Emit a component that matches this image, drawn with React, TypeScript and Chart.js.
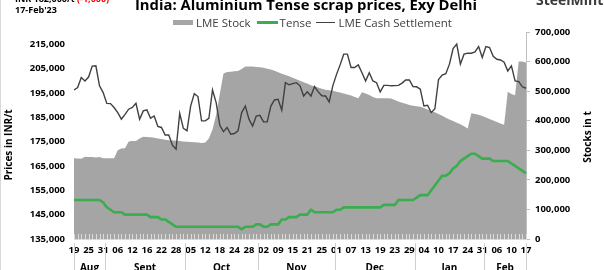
import React, { useEffect, useRef } from 'react';
import { Chart, registerables } from 'chart.js';

Chart.register(...registerables);

const FONT = "'Open Sans', sans-serif";
const GREEN = '#3aae4e';
const GRAY_AREA = '#a5a5a5';
const DARK_LINE = '#404040';

const dates = [
  '19 Aug', '22 Aug', '23 Aug', '24 Aug', '25 Aug', '26 Aug', '29 Aug', '30 Aug', '31 Aug',
  '01 Sep', '02 Sep', '05 Sep', '06 Sep', '07 Sep', '08 Sep', '09 Sep', '12 Sep', '13 Sep', '14 Sep', '15 Sep',
  '16 Sep', '19 Sep', '20 Sep', '21 Sep', '22 Sep', '23 Sep', '26 Sep', '27 Sep', '28 Sep', '29 Sep', '30 Sep',
  '03 Oct', '05 Oct', '06 Oct', '07 Oct', '10 Oct', '12 Oct', '13 Oct', '14 Oct', '17 Oct', '18 Oct', '19 Oct',
  '20 Oct', '21 Oct', '24 Oct', '25 Oct', '26 Oct', '27 Oct', '28 Oct', '29 Oct', '31 Oct',
  '01 Nov', '02 Nov', '03 Nov', '04 Nov', '07 Nov', '09 Nov', '10 Nov', '11 Nov', '14 Nov', '15 Nov', '16 Nov',
  '17 Nov', '18 Nov', '21 Nov', '22 Nov', '23 Nov', '24 Nov', '25 Nov', '28 Nov', '29 Nov', '30 Nov',
  '01 Dec', '02 Dec', '05 Dec', '06 Dec', '07 Dec', '08 Dec', '09 Dec', '12 Dec', '13 Dec', '14 Dec', '15 Dec',
  '16 Dec', '19 Dec', '20 Dec', '21 Dec', '22 Dec', '23 Dec', '26 Dec', '27 Dec', '28 Dec', '29 Dec', '30 Dec',
  '02 Jan', '03 Jan', '04 Jan', '05 Jan', '06 Jan', '09 Jan', '10 Jan', '11 Jan', '12 Jan', '13 Jan', '17 Jan',
  '18 Jan', '19 Jan', '20 Jan', '24 Jan', '25 Jan', '27 Jan', '30 Jan', '31 Jan',
  '01 Feb', '02 Feb', '03 Feb', '06 Feb', '07 Feb', '08 Feb', '09 Feb', '10 Feb', '13 Feb', '14 Feb', '16 Feb', '17 Feb',
];

const monthNames: Record<string, string> = {
  Aug: 'Aug', Sep: 'Sept', Oct: 'Oct', Nov: 'Nov', Dec: 'Dec', Jan: 'Jan', Feb: 'Feb',
};

const priceTicks = [135000, 145000, 155000, 165000, 175000, 185000, 195000, 205000, 215000];
const stockTicks = [0, 100000, 200000, 300000, 400000, 500000, 600000, 700000];

const lmeStock = [
  273000, 272000, 271000, 278000, 277000, 277000, 276000, 277000, 273000, 273000,
  273000, 273000, 300000, 306000, 307000, 330000, 331000, 331000, 340000, 346000,
  345000, 344000, 342000, 340000, 338000, 336000, 334000, 333000, 332000, 331000,
  330000, 329000, 328000, 327000, 326000, 325000, 326000, 340000, 370000, 420000,
  490000, 560000, 565000, 566000, 567000, 568000, 575000, 583000, 583000, 583000,
  582000, 581000, 579000, 576000, 573000, 569000, 564000, 559000, 555000, 550000,
  545000, 540000, 535000, 530000, 526000, 520000, 516000, 512000, 508000, 505000,
  503000, 501000, 498000, 495000, 492000, 489000, 485000, 480000, 476000, 496000,
  492000, 487000, 480000, 476000, 476000, 476000, 476000, 475000, 470000, 465000,
  461000, 457000, 453000, 451000, 449000, 447000, 443000, 438000, 433000, 429000,
  423000, 417000, 410000, 404000, 399000, 393000, 388000, 381000, 374000, 425000,
  423000, 420000, 416000, 411000, 406000, 401000, 396000, 391000, 386000, 498000,
  490000, 486000, 600000, 600000, 597000,
];

const tense = [
  151000, 151000, 151000, 151000, 151000, 151000, 151000, 151000, 150000, 148000,
  147000, 146000, 146000, 146000, 145000, 145000, 145000, 145000, 145000, 145000,
  145000, 144000, 144000, 144000, 143000, 143000, 142000, 141000, 140000, 140000,
  140000, 140000, 140000, 140000, 140000, 140000, 140000, 140000, 140000, 140000,
  140000, 140000, 140000, 140000, 140000, 140000, 139000, 140000, 140000, 140000,
  141000, 141000, 140000, 140000, 141000, 141000, 141000, 143000, 143000, 144000,
  144000, 144000, 145000, 145000, 145000, 147000, 146000, 146000, 146000, 146000,
  146000, 146000, 147000, 147000, 148000, 148000, 148000, 148000, 148000, 148000,
  148000, 148000, 148000, 148000, 148000, 149000, 149000, 149000, 149000, 151000,
  151000, 151000, 151000, 151000, 152000, 153000, 153000, 153000, 155000, 157000,
  159000, 161000, 161000, 162000, 164000, 165000, 167000, 168000, 169000, 170000,
  170000, 169000, 168000, 168000, 168000, 167000, 167000, 167000, 167000, 167000,
  166000, 165000, 164000, 163000, 162000,
];

const lmeCash = [
  196200, 197200, 201300, 199900, 201500, 206000, 206100, 197900, 195100, 190700,
  190600, 189000, 186900, 184200, 186200, 188300, 189000, 190700, 184200, 187600,
  188000, 184600, 185500, 181200, 180800, 177700, 177700, 173500, 171900, 186600,
  180400, 179400, 189600, 194700, 193500, 183500, 183500, 184500, 196200, 191000,
  181700, 179100, 180800, 178000, 178300, 179400, 186900, 189600, 184200, 181400,
  185500, 185800, 183100, 183100, 189600, 192100, 192400, 187900, 199200, 198300,
  198800, 199200, 197900, 193700, 195400, 193700, 197600, 195400, 193800, 193700,
  191300, 197900, 202500, 206500, 210900, 210900, 205400, 205400, 206500, 203300,
  199900, 203300, 199900, 199200, 195400, 198100, 198100, 197900, 198000, 198100,
  199000, 200300, 200300, 197600, 197500, 196500, 189600, 189900, 186900, 188500,
  200500, 202300, 202900, 206800, 213200, 215000, 206800, 210900, 211300, 211300,
  211800, 214000, 209500, 214000, 213600, 210000, 208800, 208500, 207600, 204000,
  206100, 199900, 199600, 197500, 196900,
];

const fmt = (v: number) => v.toLocaleString('en-US');

const overlayPlugin = {
  id: 'overlayPlugin',
  afterDatasetsDraw(chart: any) {
    const { ctx, chartArea } = chart;
    const xs = chart.scales.x;
    ctx.save();
    ctx.strokeStyle = 'rgba(222,222,222,0.95)';
    ctx.lineWidth = 1;
    for (let i = 0; i < dates.length; i++) {
      const px = Math.round(xs.getPixelForValue(i)) + 0.5;
      ctx.beginPath();
      ctx.moveTo(px, chartArea.bottom - 5);
      ctx.lineTo(px, chartArea.bottom + 1);
      ctx.stroke();
    }
    ctx.restore();
  },
  afterDraw(chart: any) {
    const { ctx, chartArea } = chart;
    const xs = chart.scales.x;
    ctx.save();
    const bounds: number[] = [chartArea.left];
    const names: string[] = [];
    let cur = dates[0].split(' ')[1];
    names.push(monthNames[cur]);
    for (let i = 1; i < dates.length; i++) {
      const m = dates[i].split(' ')[1];
      if (m !== cur) {
        bounds.push((xs.getPixelForValue(i - 1) + xs.getPixelForValue(i)) / 2);
        names.push(monthNames[m]);
        cur = m;
      }
    }
    bounds.push(chartArea.right);
    ctx.strokeStyle = '#cfcfcf';
    ctx.lineWidth = 1;
    bounds.forEach((b) => {
      const px = Math.round(b) + 0.5;
      ctx.beginPath();
      ctx.moveTo(px, chartArea.bottom + 4);
      ctx.lineTo(px, 272);
      ctx.stroke();
    });
    ctx.fillStyle = '#000';
    ctx.font = `bold 10px ${FONT}`;
    ctx.textAlign = 'center';
    ctx.textBaseline = 'alphabetic';
    names.forEach((n, k) => {
      ctx.fillText(n, (bounds[k] + bounds[k + 1]) / 2, 270.5);
    });
    ctx.font = `bold 10px ${FONT}`;
    ctx.textBaseline = 'middle';
    ctx.save();
    ctx.translate(9, 145);
    ctx.rotate(-Math.PI / 2);
    ctx.fillText('Prices in INR/t', 0, 0);
    ctx.restore();
    ctx.save();
    ctx.translate(588, 137);
    ctx.rotate(-Math.PI / 2);
    ctx.fillText('Stocks in t', 0, 0);
    ctx.restore();
    ctx.restore();
  },
};

export default function App() {
  const ref = useRef<HTMLCanvasElement>(null);

  useEffect(() => {
    Chart.defaults.font.family = FONT;
    const tickFont = { family: FONT, size: 9.5, weight: 'bold' as const };
    const chart = new Chart(ref.current as HTMLCanvasElement, {
      type: 'line',
      data: {
        labels: dates,
        datasets: [
          {
            label: 'LME Stock',
            data: lmeStock,
            yAxisID: 'y1',
            fill: 'origin',
            backgroundColor: GRAY_AREA,
            borderColor: 'rgba(0,0,0,0)',
            borderWidth: 0,
            pointRadius: 0,
            tension: 0,
          },
          {
            label: 'Tense',
            data: tense,
            yAxisID: 'y',
            fill: false,
            borderColor: GREEN,
            borderWidth: 2.6,
            pointRadius: 0,
            tension: 0,
          },
          {
            label: 'LME Cash Settlement',
            data: lmeCash,
            yAxisID: 'y',
            fill: false,
            borderColor: DARK_LINE,
            borderWidth: 1.4,
            pointRadius: 0,
            tension: 0,
          },
        ],
      },
      options: {
        responsive: false,
        animation: false,
        layout: { padding: { top: 32, left: 0, right: 0, bottom: 0 } },
        plugins: {
          legend: { display: false },
          title: { display: false },
          tooltip: { enabled: false },
          filler: { drawTime: 'beforeDatasetsDraw' },
        } as any,
        scales: {
          x: {
            type: 'category',
            offset: false,
            grid: { display: false, drawTicks: false },
            border: { display: true, color: '#d9d9d9' },
            ticks: {
              autoSkip: false,
              maxRotation: 0,
              minRotation: 0,
              padding: 6,
              color: '#000',
              font: tickFont,
              callback: (_v: any, i: number) => (i % 4 === 0 ? dates[i].split(' ')[0] : ''),
            },
            afterFit: (s: any) => {
              s.height = 31;
            },
          },
          y: {
            position: 'left',
            min: 135000,
            max: 220000,
            grid: { display: false, drawTicks: false },
            border: { display: false },
            ticks: {
              padding: 9,
              color: '#000',
              font: tickFont,
              callback: (v: any) => fmt(Number(v)),
            },
            afterBuildTicks: (s: any) => {
              s.ticks = priceTicks.map((v) => ({ value: v }));
            },
            afterFit: (s: any) => {
              s.width = 74;
            },
          },
          y1: {
            position: 'right',
            min: 0,
            max: 700000,
            grid: { drawOnChartArea: false, drawTicks: true, tickLength: 4, color: '#bfbfbf' },
            border: { display: true, color: '#bfbfbf' },
            ticks: {
              padding: 5,
              color: '#000',
              font: tickFont,
              callback: (v: any) => fmt(Number(v)),
            },
            afterBuildTicks: (s: any) => {
              s.ticks = stockTicks.map((v) => ({ value: v }));
            },
            afterFit: (s: any) => {
              s.width = 78;
            },
          },
        },
      } as any,
      plugins: [overlayPlugin],
    });
    return () => chart.destroy();
  }, []);

  return (
    <div
      style={{
        position: 'fixed',
        left: 0,
        top: 0,
        width: 604,
        height: 270,
        overflow: 'hidden',
        background: '#fff',
        fontFamily: FONT,
      }}
    >
      <canvas
        ref={ref}
        width={604}
        height={270}
        style={{ position: 'absolute', left: 0, top: 0, width: 604, height: 270 }}
      />
      <div style={{ position: 'absolute', left: 0, top: 0, width: 1, height: 270, background: '#d9d9d9' }} />
      <div
        style={{
          position: 'absolute',
          left: 15,
          top: -7,
          fontSize: 9,
          lineHeight: '11px',
          fontWeight: 700,
          color: '#000',
          whiteSpace: 'nowrap',
        }}
      >
        <div>
          INR 162,000/t <span style={{ color: '#ff0000' }}>(-1,000)</span>
        </div>
        <div>17-Feb'23</div>
      </div>
      <div
        style={{
          position: 'absolute',
          left: 306,
          top: -3.5,
          transform: 'translateX(-50%)',
          fontSize: 14.8,
          lineHeight: '15px',
          fontWeight: 700,
          color: '#000',
          whiteSpace: 'nowrap',
        }}
      >
        India: Aluminium Tense scrap prices, Exy Delhi
      </div>
      <div
        style={{
          position: 'absolute',
          left: 536,
          top: -7.4,
          fontSize: 14,
          lineHeight: '14px',
          fontWeight: 700,
          color: '#3a3a3a',
          whiteSpace: 'nowrap',
        }}
      >
        SteelMint
      </div>
      <div
        style={{
          position: 'absolute',
          left: 173,
          top: 17,
          display: 'flex',
          alignItems: 'center',
          fontSize: 11.5,
          lineHeight: '11px',
          color: '#404040',
          whiteSpace: 'nowrap',
        }}
      >
        <span style={{ display: 'inline-block', width: 20, height: 5, background: GRAY_AREA, marginRight: 3 }} />
        <span>LME Stock</span>
        <span style={{ display: 'inline-block', width: 21, height: 3, background: GREEN, marginLeft: 6, marginRight: 2 }} />
        <span>Tense</span>
        <span style={{ display: 'inline-block', width: 19, height: 1.5, background: DARK_LINE, marginLeft: 5, marginRight: 3 }} />
        <span>LME Cash Settlement</span>
      </div>
    </div>
  );
}
